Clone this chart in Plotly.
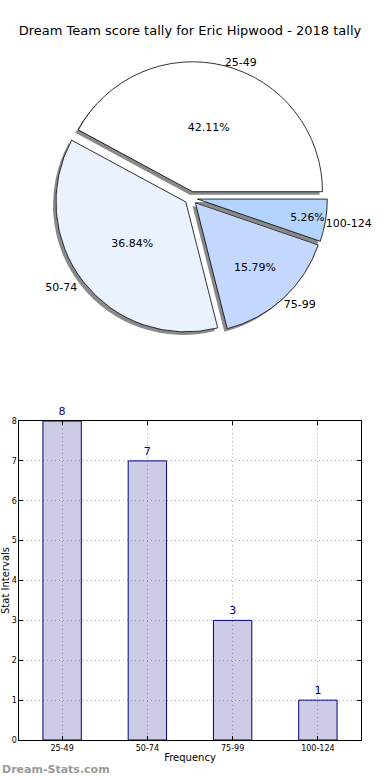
import plotly.graph_objects as go

categories = ["25-49", "50-74", "75-99", "100-124"]
counts = [8, 7, 3, 1]
pie_colors = ["#FFFFFF", "#EAF1FF", "#C4D7FF", "#B3D4FF"]
title_text = "Dream Team score tally for Eric Hipwood - 2018 tally"

W, H = 390, 780
cx, cy, R = 196, 198, 140  # pie centre/half-domain (px, from top)
sh = 3  # shadow offset px

# matplotlib-style start at 3 o'clock going counter-clockwise:
# plotly's ccw pies place the first slice ending at `rotation`
rot = 90 - 360 * counts[0] / sum(counts)

def dom(cx, cy, R):
    return dict(x=[(cx - R) / W, (cx + R) / W], y=[1 - (cy + R) / H, 1 - (cy - R) / H])

fig = go.Figure()

# shadow pie (also carries outside labels)
fig.add_trace(go.Pie(
    labels=categories, values=counts, sort=False, direction="counterclockwise",
    rotation=rot, pull=[0.05] * 4, domain=dom(cx - sh, cy + sh, R),
    marker=dict(colors=["#8a8a8a"] * 4, line=dict(width=0)),
    textinfo="label", textposition="outside",
    textfont=dict(family="DejaVu Sans", size=11, color="black"),
    showlegend=False, hoverinfo="skip",
))

# main pie
fig.add_trace(go.Pie(
    labels=categories, values=counts, sort=False, direction="counterclockwise",
    rotation=rot, pull=[0.05] * 4, domain=dom(cx, cy, R),
    marker=dict(colors=pie_colors, line=dict(color="black", width=0.8)),
    texttemplate="%{percent:.2%}", textposition="inside",
    insidetextorientation="horizontal",
    textfont=dict(family="DejaVu Sans", size=11, color="black"),
    showlegend=False,
))

# bar chart
fig.add_trace(go.Bar(
    x=categories, y=counts, width=0.45,
    marker=dict(color="rgba(0,0,128,0.2)", line=dict(color="#000080", width=1)),
    text=[str(v) for v in counts], textposition="outside", cliponaxis=False,
    textfont=dict(family="DejaVu Sans", size=11, color="#000080"),
    showlegend=False, xaxis="x", yaxis="y",
))

axis_common = dict(
    showline=True, linecolor="black", linewidth=1, mirror="ticks",
    ticks="inside", ticklen=4, tickcolor="black", automargin=False,
    showgrid=True, gridcolor="#b0b0b0", griddash="1px,3px", gridwidth=1,
    zeroline=False, tickfont=dict(family="DejaVu Sans", size=8, color="black"),
)

fig.update_layout(
    width=W, height=H, margin=dict(l=0, r=0, t=0, b=0),
    paper_bgcolor="white", plot_bgcolor="white",
    font=dict(family="DejaVu Sans", color="black"),
    title=dict(text=title_text, x=0.5, xref="paper", xanchor="center", y=1 - 30 / H,
               yanchor="middle", automargin=False,
               font=dict(family="DejaVu Sans", size=13, color="black")),
    xaxis=dict(domain=[20 / W, 370 / W], range=[-0.5, 3.5], anchor="y",
               title=dict(text="Frequency", font=dict(size=10), standoff=2), **axis_common),
    yaxis=dict(domain=[1 - 740 / H, 1 - 421 / H], range=[0, 8], dtick=1, anchor="x",
               title=dict(text="Stat Intervals", font=dict(size=10), standoff=0), **axis_common),
    bargap=0.55,
    annotations=[dict(text="<b>Dream-Stats.com</b>", x=0, y=2 / H, xref="paper", yref="paper",
                      xanchor="left", yanchor="bottom", showarrow=False,
                      font=dict(family="DejaVu Sans", size=11, color="#9a9a9a"))],
)

fig.write_html(
    "out.html", config={"displayModeBar": False},
    post_script=(
        "document.documentElement.style.overflow='hidden';"
        "document.body.style.margin='0';document.body.style.overflow='hidden';"
        "document.body.style.width='390px';"
        "var s=document.querySelectorAll('svg.main-svg');"
        "for(var i=0;i<s.length;i++){s[i].style.overflow='hidden';}"
    ),
)
